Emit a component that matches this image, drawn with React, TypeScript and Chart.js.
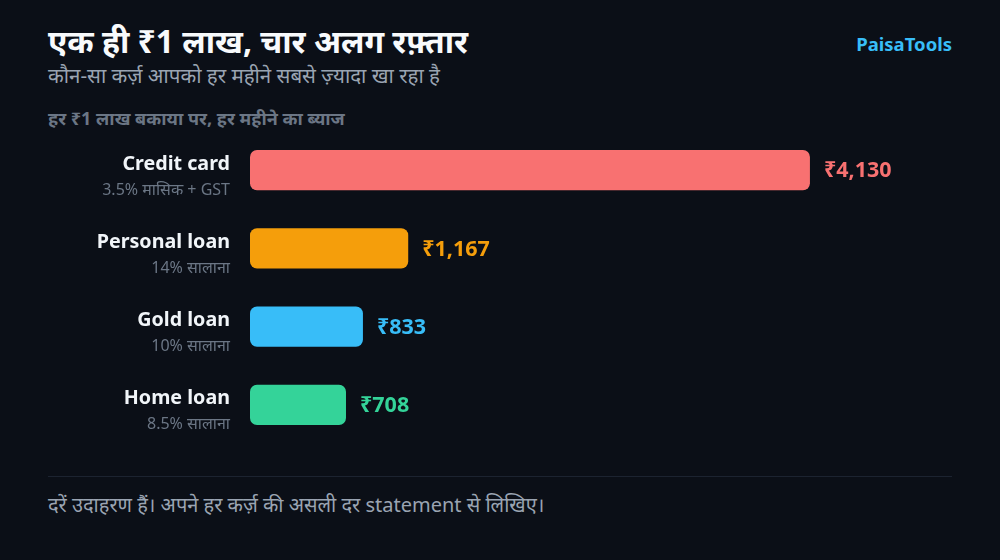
import { useEffect, useRef } from 'react';
import { Chart, registerables, Plugin } from 'chart.js';

Chart.register(...registerables);

const loanNames = ['Credit card', 'Personal loan', 'Gold loan', 'Home loan'];
const rateNotes = ['3.5% मासिक + GST', '14% सालाना', '10% सालाना', '8.5% सालाना'];
const monthlyInterest = [4130, 1167, 833, 708];
const barColors = ['#f87171', '#f59e0b', '#38bdf8', '#34d399'];

const FONT = '"Noto Sans", "Open Sans", sans-serif';

const rupee = (v: number) => '₹' + v.toLocaleString('en-IN');

// names + notes on the left, values after each bar
const barText: Plugin<'bar'> = {
  id: 'barText',
  afterDatasetsDraw(chart) {
    const { ctx } = chart;
    const yScale = chart.scales.y;
    const meta = chart.getDatasetMeta(0);
    ctx.save();
    loanNames.forEach((name, i) => {
      const y = yScale.getPixelForValue(i);
      ctx.textAlign = 'right';
      ctx.textBaseline = 'middle';
      ctx.fillStyle = '#f1f5f9';
      ctx.font = `bold 19.7px ${FONT}`;
      ctx.fillText(name, 230, y - 6);
      ctx.fillStyle = '#6b7685';
      ctx.font = `16px ${FONT}`;
      ctx.fillText(rateNotes[i], 230, y + 20);

      const bar = meta.data[i] as any;
      ctx.textAlign = 'left';
      ctx.fillStyle = barColors[i];
      ctx.font = `bold 21.5px ${FONT}`;
      ctx.fillText(rupee(monthlyInterest[i]), bar.x + 14, y + 1);
    });
    ctx.restore();
  },
};

function InterestBars() {
  const canvasRef = useRef<HTMLCanvasElement | null>(null);
  const chartRef = useRef<Chart | null>(null);

  useEffect(() => {
    const ctx = canvasRef.current?.getContext('2d');
    if (!ctx) return;
    if (chartRef.current) chartRef.current.destroy();

    chartRef.current = new Chart(ctx, {
      type: 'bar',
      data: {
        labels: loanNames,
        datasets: [
          {
            data: monthlyInterest,
            backgroundColor: barColors,
            borderRadius: 7,
            borderSkipped: false,
            categoryPercentage: 1,
            barPercentage: 0.513,
          },
        ],
      },
      options: {
        indexAxis: 'y',
        animation: false,
        responsive: false,
        maintainAspectRatio: false,
        layout: { padding: { left: 250, right: 45, top: 0, bottom: 0 } },
        plugins: {
          legend: { display: false },
          tooltip: { enabled: false },
        },
        scales: {
          x: { display: false, min: 0, max: 5200 },
          y: { display: false },
        },
      },
      plugins: [barText],
    });

    return () => {
      if (chartRef.current) chartRef.current.destroy();
    };
  }, []);

  return (
    <canvas
      ref={canvasRef}
      width={1000}
      height={313}
      style={{ position: 'absolute', left: 0, top: 130.5, width: 1000, height: 313 }}
    />
  );
}

export default function App() {
  useEffect(() => {
    document.body.style.margin = '0';
    document.body.style.background = '#0b0f17';
  }, []);

  return (
    <div
      style={{
        position: 'relative',
        width: 1000,
        height: 560,
        background: '#0b0f17',
        fontFamily: FONT,
        overflow: 'hidden',
      }}
    >
      <div
        style={{
          position: 'absolute',
          left: 48,
          top: 19,
          fontSize: 31.8,
          fontWeight: 700,
          color: '#f8fafc',
          whiteSpace: 'nowrap',
        }}
      >
        एक ही ₹1 लाख, चार अलग रफ़्तार
      </div>
      <div
        style={{
          position: 'absolute',
          right: 48,
          top: 31,
          fontSize: 18.5,
          fontWeight: 700,
          color: '#38bdf8',
        }}
      >
        PaisaTools
      </div>
      <div
        style={{
          position: 'absolute',
          left: 48,
          top: 61,
          fontSize: 20.5,
          color: '#9aa4b2',
          whiteSpace: 'nowrap',
        }}
      >
        कौन-सा कर्ज़ आपको हर महीने सबसे ज़्यादा खा रहा है
      </div>
      <div
        style={{
          position: 'absolute',
          left: 48,
          top: 106,
          fontSize: 18,
          fontWeight: 700,
          color: '#6b7685',
          whiteSpace: 'nowrap',
        }}
      >
        हर ₹1 लाख बकाया पर, हर महीने का ब्याज
      </div>
      <InterestBars />
      <div
        style={{
          position: 'absolute',
          left: 48,
          right: 48,
          top: 476,
          height: 1,
          background: '#1c2330',
        }}
      />
      <div
        style={{
          position: 'absolute',
          left: 48,
          top: 491,
          fontSize: 20,
          color: '#9aa4b2',
          whiteSpace: 'nowrap',
        }}
      >
        दरें उदाहरण हैं। अपने हर कर्ज़ की असली दर statement से लिखिए।
      </div>
    </div>
  );
}
